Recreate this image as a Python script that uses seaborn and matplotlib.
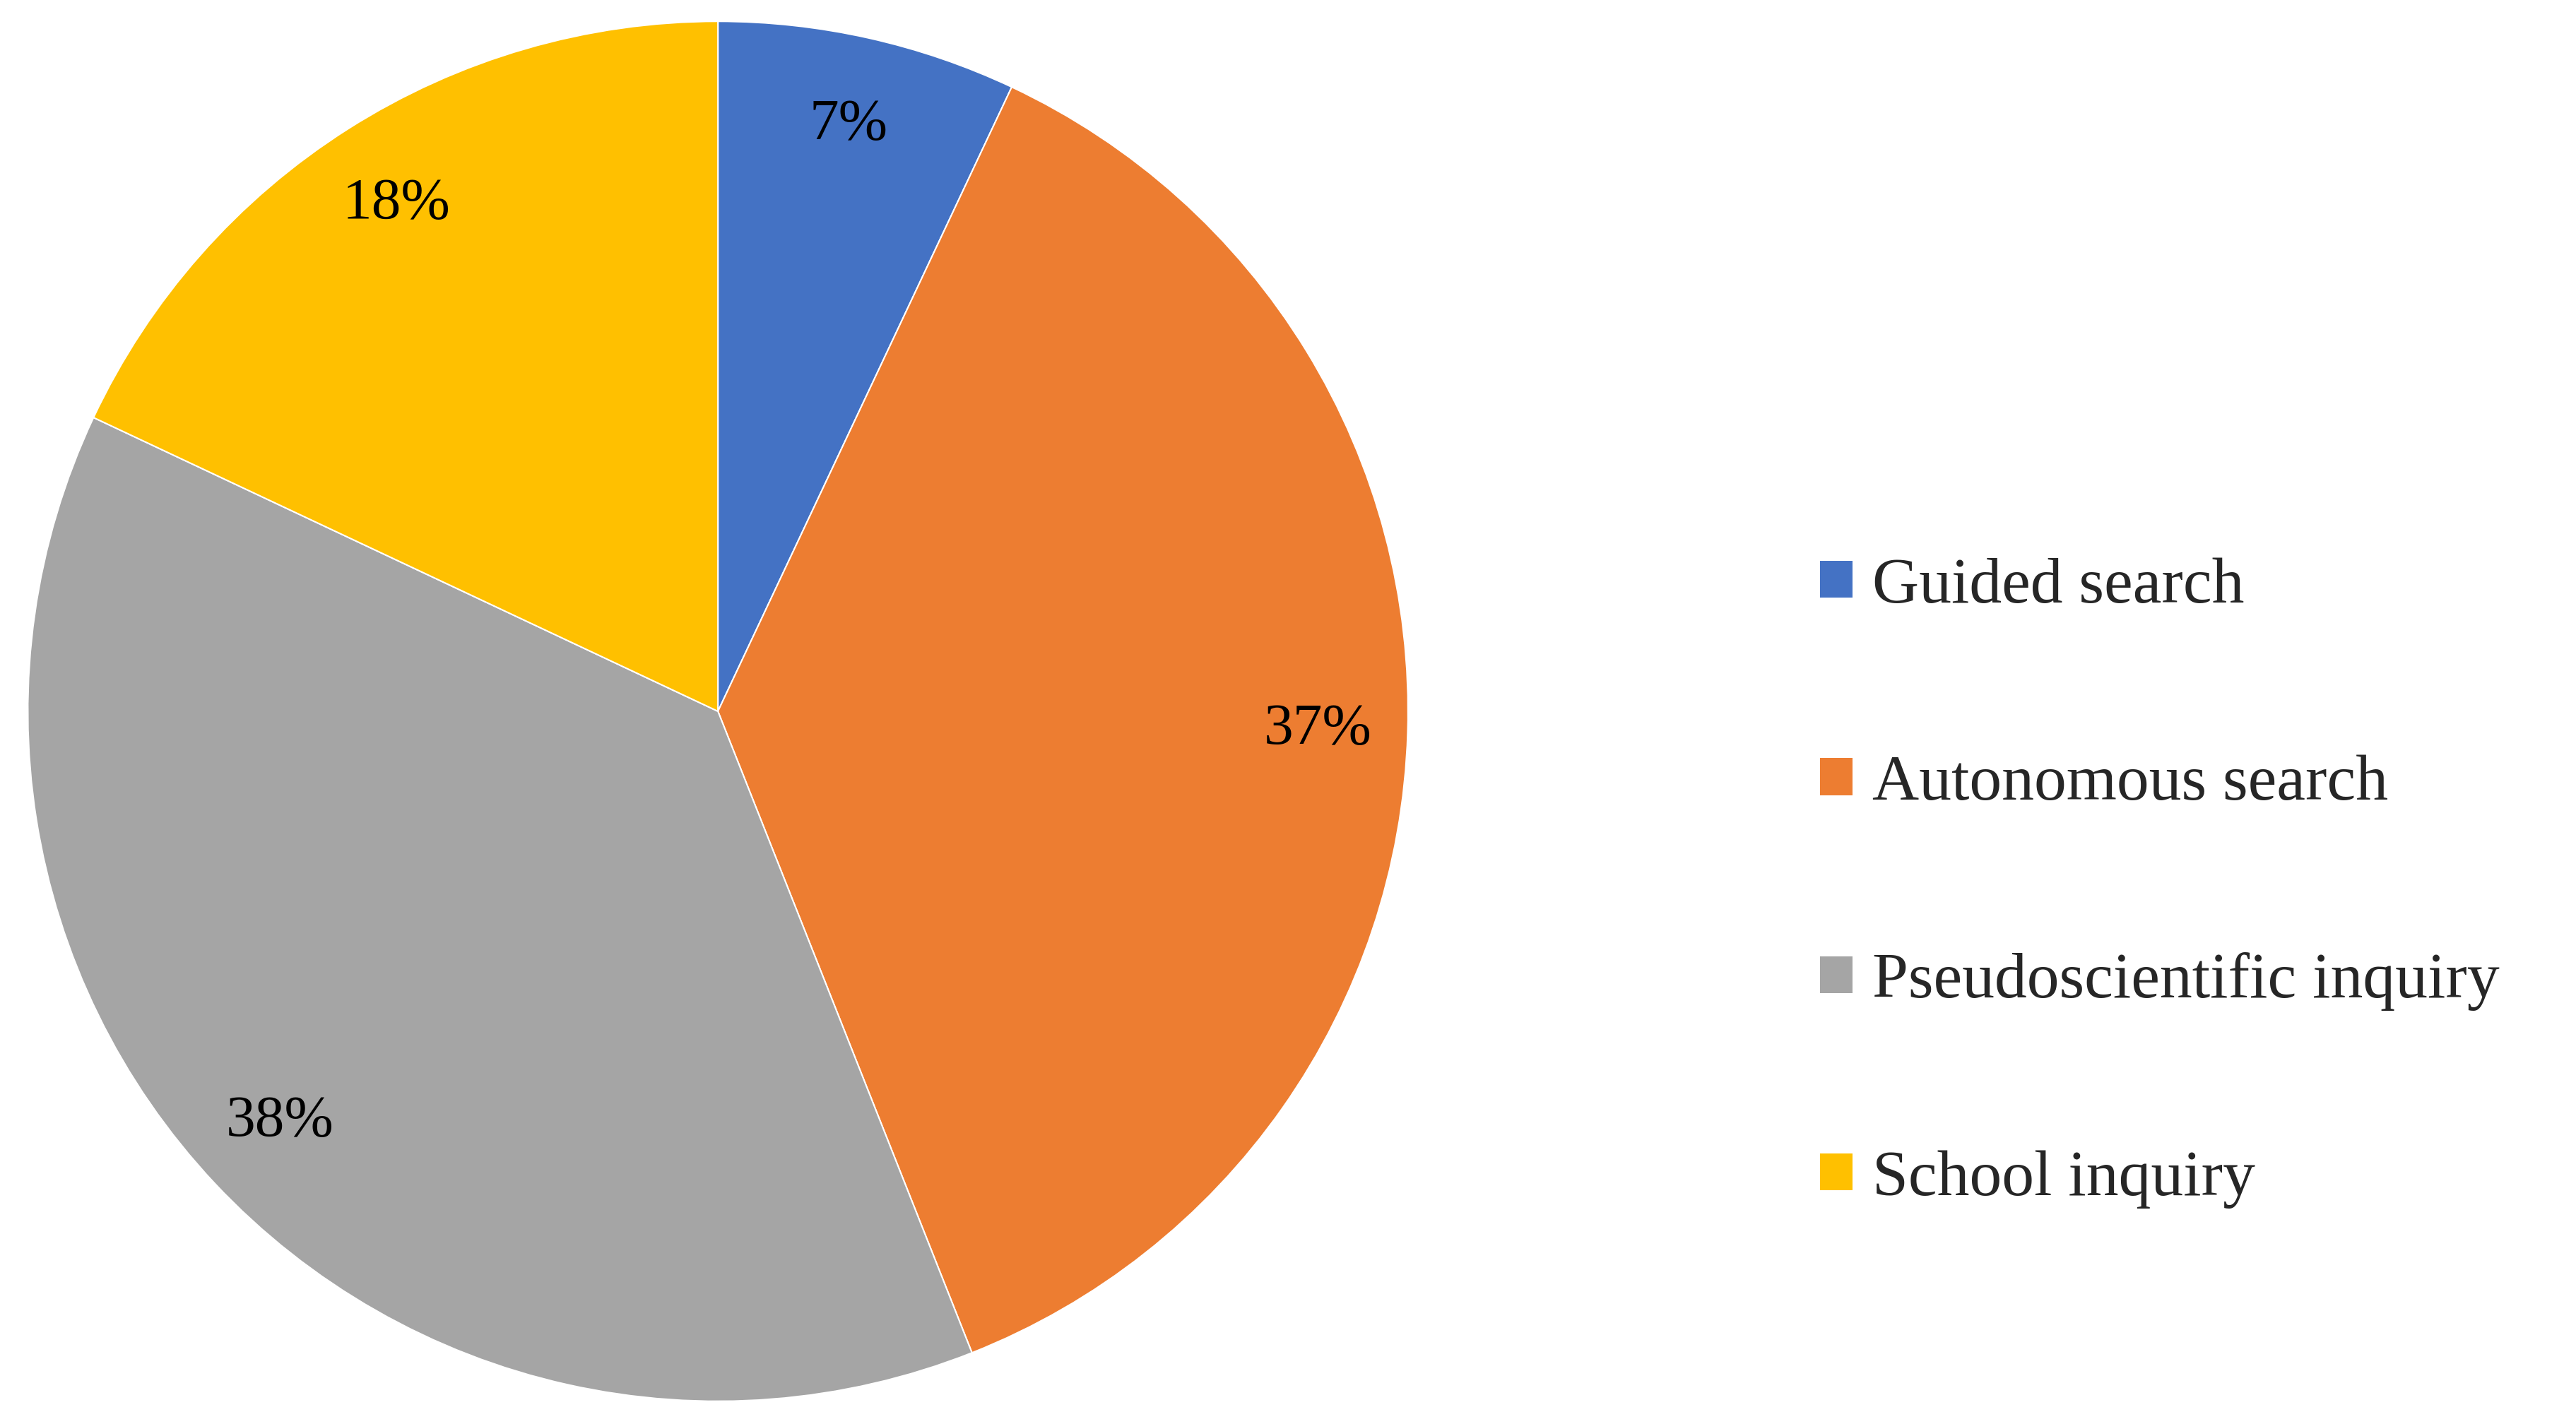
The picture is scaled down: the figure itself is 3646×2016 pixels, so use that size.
import matplotlib
matplotlib.use("Agg")
import matplotlib.pyplot as plt
import seaborn as sns
from matplotlib.patches import Patch

categories = ["Guided search", "Autonomous search", "Pseudoscientific inquiry", "School inquiry"]
values = [7, 37, 38, 18]
colors = ["#4472C4", "#ED7D31", "#A5A5A5", "#FFC000"]

sns.set_style("white")
plt.rcParams['font.family'] = ['Liberation Serif', 'DejaVu Serif']

fig = plt.figure(figsize=(36.46, 20.16), dpi=100)
ax = fig.add_axes([0.0107, 0.016, 0.536, 0.969])
wedges, texts, autotexts = ax.pie(values, colors=colors, startangle=90, counterclock=False,
       autopct=lambda p: f"{p:.0f}%", pctdistance=0.87,
       wedgeprops=dict(linewidth=1.5, edgecolor="white"),
       textprops=dict(fontsize=60, color="black"))
ax.set_xlim(-1, 1)
ax.set_ylim(-1, 1)
ax.set_aspect("equal")
ax.axis("off")

handles = [Patch(facecolor=c, edgecolor="none") for c in colors]
fig.legend(handles, categories, loc="center left", bbox_to_anchor=(0.684, 0.38),
           frameon=False, fontsize=66, labelspacing=2.15, handlelength=0.5, handleheight=0.5,
           handletextpad=0.3)
fig.savefig("out.png", dpi=100, facecolor="white")
